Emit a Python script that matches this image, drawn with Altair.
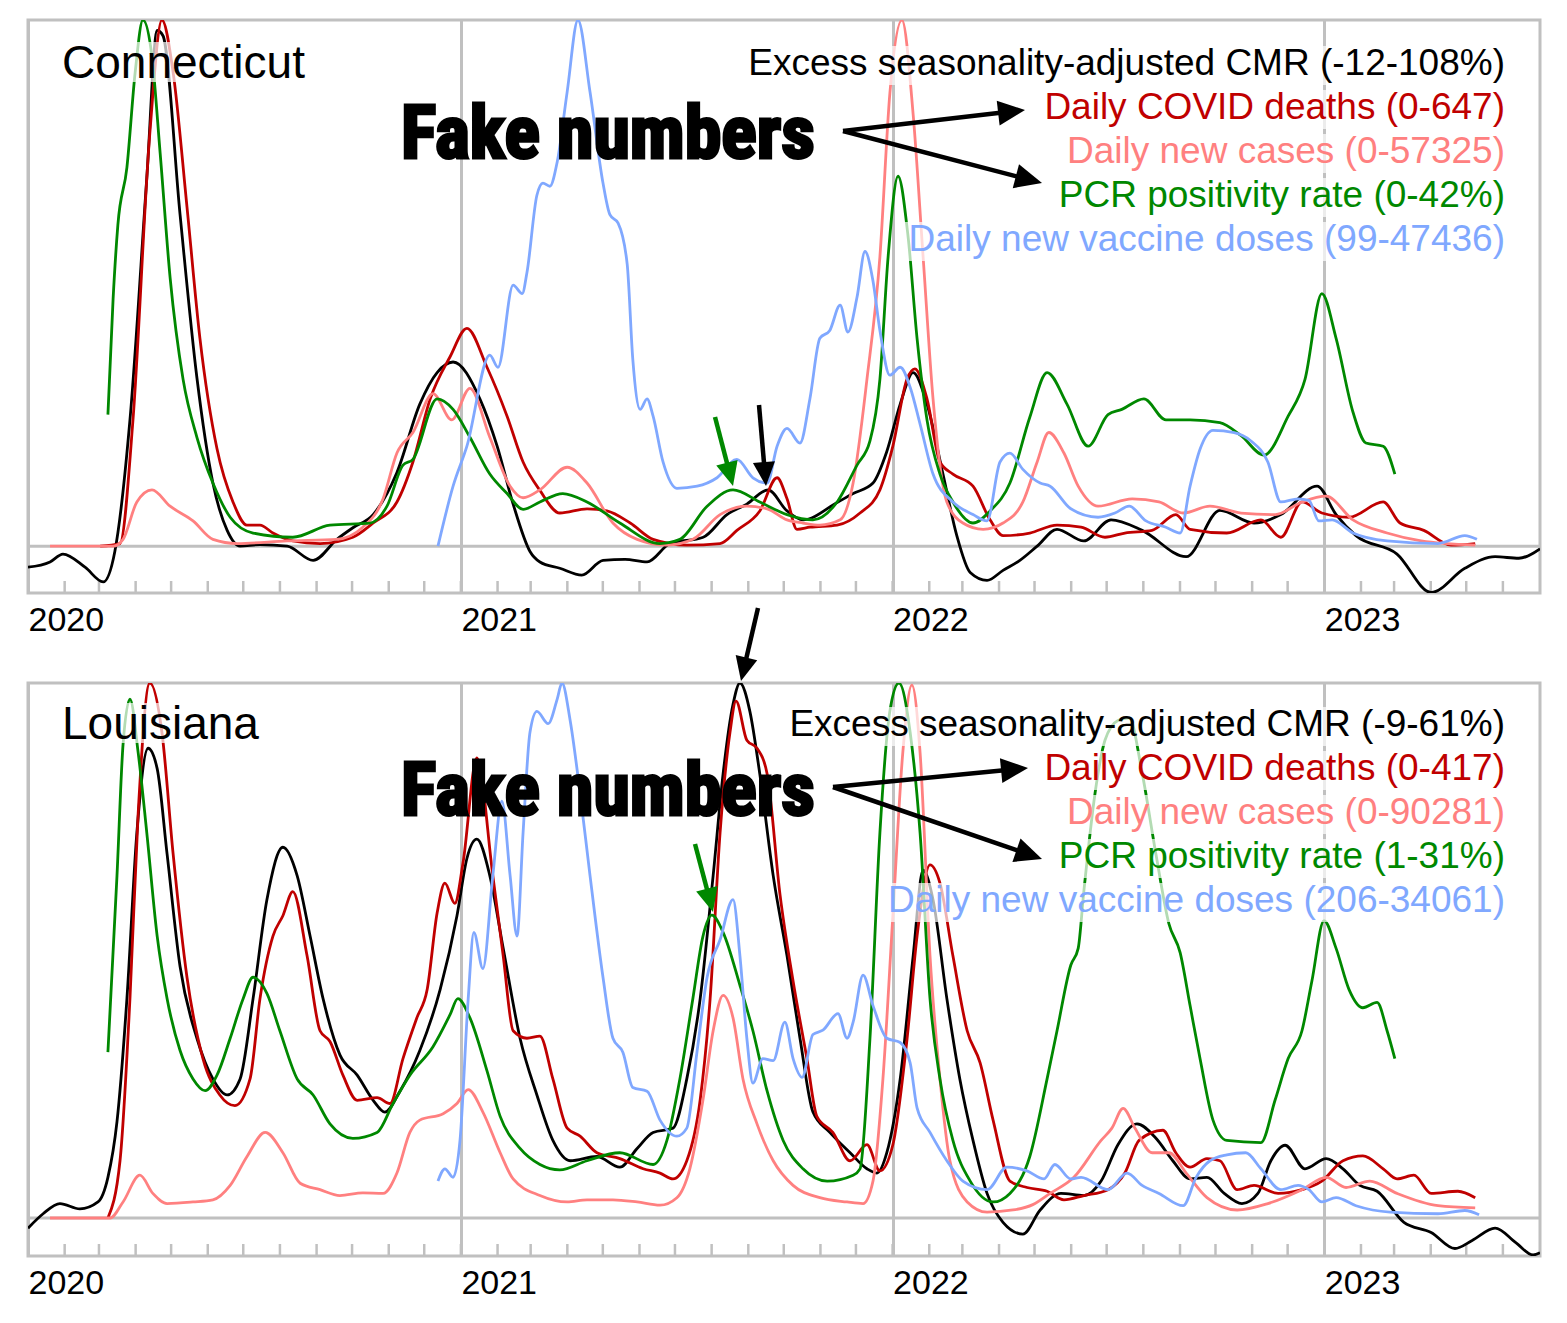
import math
import altair as alt
import pandas as pd

# ---------------- data: time in years since 1 Jan 2020, values scaled 0..1 per series ----------------
CT_CMR_T = [0.000,0.051,0.081,0.132,0.174,0.201,0.236,0.275,0.299,0.3125,0.352,0.391,0.428,0.461,0.491,0.537,0.600,0.660,0.715,0.752,0.799,0.854,0.907,0.947,0.984,1.046,1.086,1.123,1.162,1.185,1.231,1.282,1.331,1.382,1.433,1.486,1.563,1.618,1.664,1.713,1.757,1.794,1.873,1.910,1.956,1.988,2.019,2.049,2.081,2.118,2.150,2.181,2.220,2.257,2.296,2.336,2.382,2.444,2.507,2.579,2.681,2.759,2.838,2.900,2.984,3.028,3.074,3.169,3.248,3.326,3.396,3.451,3.500]
CT_CMR_V = [-0.04,-0.03,-0.015,-0.04,-0.068,-0.01,0.24,0.70,0.98,0.97,0.63,0.32,0.12,0.03,0.0,0.003,0.0,-0.027,0.013,0.035,0.06,0.14,0.27,0.33,0.35,0.28,0.19,0.08,-0.01,-0.03,-0.042,-0.055,-0.027,-0.025,-0.03,0.005,0.017,0.06,0.08,0.107,0.067,0.05,0.083,0.10,0.12,0.18,0.27,0.33,0.27,0.137,0.02,-0.05,-0.065,-0.046,-0.027,0.0,0.032,0.01,0.05,0.03,-0.02,0.068,0.044,0.06,0.114,0.06,0.02,-0.015,-0.088,-0.042,-0.02,-0.023,-0.005]

CT_DEATHS_T = [0.167,0.213,0.243,0.282,0.310,0.336,0.368,0.398,0.4375,0.4745,0.507,0.537,0.567,0.613,0.676,0.752,0.799,0.854,0.891,0.931,0.977,1.016,1.0625,1.109,1.146,1.185,1.231,1.294,1.340,1.394,1.447,1.525,1.602,1.641,1.694,1.734,1.757,1.780,1.810,1.873,1.926,1.972,2.002,2.035,2.053,2.081,2.111,2.141,2.1875,2.227,2.257,2.319,2.382,2.4375,2.493,2.539,2.602,2.657,2.690,2.775,2.854,2.900,2.949,2.995,3.058,3.137,3.176,3.231,3.294,3.350]
CT_DEATHS_V = [0,0.005,0.24,0.785,1.0,0.9,0.645,0.395,0.185,0.084,0.04,0.04,0.025,0.01,0.005,0.017,0.044,0.084,0.16,0.28,0.36,0.414,0.34,0.247,0.16,0.106,0.063,0.071,0.067,0.044,0.013,0.002,0.005,0.03,0.067,0.13,0.09,0.032,0.036,0.04,0.063,0.107,0.19,0.318,0.337,0.28,0.16,0.137,0.114,0.05,0.02,0.025,0.04,0.036,0.017,0.025,0.03,0.06,0.032,0.025,0.05,0.017,0.084,0.063,0.055,0.084,0.044,0.03,0.002,0.005]

CT_CASES_T = [0.051,0.197,0.220,0.252,0.287,0.329,0.382,0.428,0.484,0.600,0.715,0.775,0.822,0.854,0.891,0.9375,0.981,1.023,1.069,1.116,1.146,1.185,1.248,1.294,1.354,1.410,1.479,1.539,1.602,1.664,1.711,1.757,1.794,1.833,1.880,1.910,1.942,1.972,1.995,2.023,2.049,2.072,2.095,2.127,2.164,2.211,2.257,2.303,2.336,2.363,2.398,2.431,2.477,2.556,2.618,2.674,2.736,2.808,2.887,2.949,3.005,3.067,3.146,3.225,3.350]
CT_CASES_V = [0,0,0.013,0.084,0.107,0.076,0.048,0.013,0.005,0.01,0.013,0.036,0.09,0.177,0.216,0.29,0.24,0.30,0.207,0.114,0.092,0.107,0.15,0.12,0.044,0.013,0.002,0.013,0.06,0.076,0.071,0.05,0.044,0.04,0.05,0.12,0.317,0.55,0.86,1.0,0.82,0.55,0.28,0.084,0.044,0.032,0.044,0.084,0.16,0.216,0.177,0.114,0.076,0.09,0.084,0.063,0.076,0.063,0.06,0.084,0.095,0.05,0.025,0.01,0.002]

CT_PCR_T = [0.185,0.197,0.208,0.229,0.248,0.266,0.287,0.306,0.329,0.359,0.391,0.428,0.468,0.521,0.613,0.699,0.792,0.831,0.868,0.891,0.947,0.984,1.023,1.069,1.109,1.146,1.185,1.238,1.294,1.370,1.463,1.509,1.572,1.632,1.694,1.757,1.817,1.873,1.919,1.949,1.972,1.991,2.014,2.037,2.058,2.081,2.111,2.141,2.1875,2.227,2.273,2.319,2.359,2.405,2.454,2.500,2.532,2.583,2.634,2.690,2.759,2.808,2.861,2.917,2.956,2.995,3.028,3.067,3.097,3.137,3.164]
CT_PCR_V = [0.25,0.47,0.61,0.72,0.90,1.0,0.93,0.746,0.51,0.317,0.207,0.12,0.055,0.025,0.017,0.04,0.044,0.076,0.154,0.165,0.28,0.26,0.207,0.137,0.1,0.07,0.084,0.1,0.084,0.044,0.005,0.013,0.076,0.107,0.084,0.06,0.05,0.084,0.154,0.2,0.317,0.55,0.703,0.59,0.395,0.24,0.137,0.084,0.044,0.067,0.12,0.245,0.33,0.27,0.19,0.25,0.26,0.28,0.24,0.24,0.235,0.21,0.173,0.247,0.317,0.48,0.395,0.255,0.196,0.19,0.137]

CT_VAX_T = [0.949,0.984,1.016,1.069,1.088,1.123,1.144,1.155,1.178,1.192,1.208,1.225,1.248,1.273,1.301,1.331,1.347,1.366,1.387,1.400,1.417,1.433,1.447,1.470,1.502,1.549,1.595,1.641,1.678,1.711,1.734,1.757,1.787,1.810,1.833,1.856,1.880,1.898,1.919,1.9375,1.956,1.972,1.995,2.019,2.042,2.065,2.095,2.141,2.1875,2.220,2.250,2.273,2.303,2.343,2.366,2.414,2.477,2.516,2.549,2.588,2.634,2.667,2.690,2.713,2.743,2.792,2.831,2.870,2.900,2.940,2.965,2.988,3.019,3.067,3.146,3.264,3.326,3.354]
CT_VAX_V = [0,0.114,0.19,0.363,0.34,0.496,0.48,0.52,0.667,0.69,0.684,0.73,0.863,1.0,0.863,0.69,0.63,0.614,0.536,0.355,0.26,0.28,0.247,0.16,0.11,0.114,0.13,0.165,0.13,0.12,0.19,0.224,0.196,0.28,0.395,0.41,0.458,0.407,0.473,0.56,0.504,0.41,0.325,0.34,0.302,0.232,0.137,0.084,0.06,0.048,0.16,0.177,0.146,0.12,0.114,0.071,0.055,0.063,0.076,0.048,0.036,0.025,0.114,0.184,0.22,0.216,0.2,0.16,0.084,0.09,0.087,0.048,0.05,0.025,0.01,0.005,0.02,0.013]

LA_CMR_T = [0.000,0.035,0.074,0.120,0.162,0.185,0.206,0.229,0.252,0.278,0.299,0.322,0.352,0.391,0.428,0.461,0.491,0.521,0.553,0.590,0.623,0.653,0.683,0.722,0.762,0.799,0.826,0.861,0.907,0.954,0.993,1.016,1.039,1.069,1.100,1.139,1.178,1.215,1.255,1.317,1.370,1.410,1.447,1.493,1.525,1.556,1.586,1.609,1.632,1.648,1.671,1.694,1.725,1.757,1.787,1.817,1.856,1.903,1.942,1.965,1.988,2.019,2.049,2.072,2.095,2.127,2.157,2.1875,2.220,2.257,2.303,2.343,2.391,2.444,2.484,2.523,2.567,2.611,2.650,2.690,2.729,2.769,2.810,2.847,2.877,2.910,2.956,3.005,3.044,3.083,3.123,3.185,3.248,3.303,3.343,3.396,3.444,3.484,3.500]
LA_CMR_V = [-0.019,0.008,0.027,0.017,0.03,0.076,0.18,0.41,0.72,0.878,0.84,0.68,0.47,0.336,0.26,0.23,0.26,0.41,0.595,0.693,0.64,0.527,0.41,0.305,0.267,0.22,0.198,0.237,0.313,0.427,0.565,0.672,0.708,0.64,0.504,0.336,0.23,0.145,0.107,0.115,0.095,0.13,0.16,0.168,0.26,0.41,0.64,0.83,0.96,1.0,0.947,0.83,0.64,0.49,0.336,0.198,0.16,0.122,0.092,0.084,0.122,0.26,0.49,0.65,0.595,0.41,0.26,0.145,0.046,-0.008,-0.03,0.015,0.046,0.042,0.069,0.137,0.176,0.149,0.107,0.073,0.076,0.046,0.027,0.046,0.107,0.136,0.092,0.111,0.092,0.061,0.05,-0.008,-0.027,-0.057,-0.042,-0.019,-0.046,-0.069,-0.065]

LA_DEATHS_T = [0.185,0.213,0.236,0.255,0.282,0.310,0.336,0.368,0.405,0.444,0.479,0.514,0.537,0.567,0.590,0.613,0.646,0.676,0.699,0.729,0.762,0.808,0.838,0.868,0.900,0.924,0.947,0.965,0.988,1.007,1.039,1.076,1.100,1.123,1.155,1.185,1.215,1.248,1.278,1.317,1.370,1.424,1.463,1.493,1.525,1.556,1.579,1.602,1.625,1.639,1.664,1.6875,1.711,1.741,1.771,1.803,1.826,1.863,1.903,1.942,1.972,2.002,2.035,2.058,2.088,2.111,2.141,2.174,2.204,2.234,2.273,2.3125,2.359,2.398,2.444,2.500,2.539,2.572,2.627,2.657,2.690,2.729,2.759,2.799,2.838,2.894,2.949,2.995,3.044,3.090,3.137,3.169,3.208,3.248,3.310,3.350]
LA_DEATHS_V = [0,0.107,0.41,0.756,1.0,0.908,0.68,0.45,0.298,0.23,0.21,0.26,0.41,0.527,0.565,0.61,0.49,0.35,0.33,0.267,0.22,0.225,0.214,0.298,0.374,0.427,0.57,0.626,0.588,0.664,0.86,0.64,0.49,0.35,0.336,0.34,0.26,0.168,0.153,0.122,0.111,0.092,0.084,0.073,0.107,0.221,0.41,0.72,0.908,0.966,0.893,0.878,0.83,0.603,0.443,0.298,0.19,0.16,0.107,0.137,0.088,0.137,0.336,0.527,0.66,0.626,0.49,0.35,0.29,0.183,0.069,0.057,0.05,0.034,0.042,0.053,0.084,0.145,0.164,0.122,0.095,0.111,0.107,0.053,0.061,0.046,0.053,0.069,0.107,0.116,0.092,0.073,0.08,0.046,0.05,0.038]

LA_CASES_T = [0.051,0.190,0.220,0.259,0.289,0.322,0.382,0.428,0.468,0.507,0.549,0.590,0.630,0.676,0.722,0.775,0.822,0.854,0.884,0.907,0.961,0.993,1.019,1.053,1.093,1.123,1.185,1.248,1.294,1.354,1.410,1.463,1.502,1.532,1.5625,1.586,1.609,1.632,1.655,1.6875,1.725,1.771,1.833,1.896,1.933,1.956,1.979,2.002,2.025,2.046,2.065,2.088,2.111,2.134,2.174,2.220,2.280,2.326,2.366,2.421,2.484,2.509,2.535,2.5625,2.602,2.641,2.681,2.729,2.799,2.870,2.949,3.005,3.051,3.106,3.169,3.264,3.350]
LA_CASES_V = [0,0,0.03,0.08,0.046,0.027,0.03,0.034,0.061,0.115,0.16,0.122,0.065,0.053,0.042,0.047,0.046,0.084,0.16,0.183,0.195,0.214,0.24,0.198,0.122,0.073,0.042,0.03,0.034,0.034,0.03,0.024,0.038,0.092,0.221,0.35,0.416,0.374,0.26,0.176,0.107,0.061,0.038,0.03,0.027,0.069,0.26,0.565,0.87,0.996,0.87,0.49,0.26,0.107,0.03,0.011,0.015,0.025,0.046,0.076,0.145,0.168,0.205,0.168,0.122,0.122,0.084,0.038,0.015,0.027,0.053,0.076,0.057,0.069,0.046,0.023,0.019]

LA_PCR_T = [0.185,0.206,0.220,0.236,0.255,0.275,0.299,0.322,0.352,0.382,0.410,0.4375,0.468,0.498,0.521,0.553,0.583,0.623,0.660,0.699,0.752,0.808,0.845,0.884,0.9375,0.977,0.995,1.023,1.0625,1.093,1.139,1.185,1.231,1.294,1.370,1.447,1.479,1.509,1.539,1.5625,1.583,1.609,1.648,1.678,1.711,1.748,1.794,1.850,1.910,1.926,1.949,1.972,1.995,2.016,2.042,2.065,2.088,2.111,2.141,2.181,2.234,2.273,2.319,2.359,2.382,2.414,2.431,2.444,2.470,2.493,2.523,2.549,2.579,2.611,2.641,2.667,2.690,2.713,2.743,2.775,2.854,2.887,2.917,2.949,2.972,3.000,3.028,3.058,3.090,3.123,3.146,3.164]
LA_PCR_V = [0.31,0.64,0.885,0.97,0.87,0.72,0.527,0.41,0.313,0.26,0.238,0.267,0.336,0.41,0.45,0.42,0.35,0.26,0.23,0.176,0.149,0.16,0.214,0.267,0.32,0.38,0.41,0.374,0.275,0.19,0.13,0.1,0.09,0.107,0.122,0.1,0.145,0.26,0.41,0.527,0.566,0.534,0.435,0.35,0.237,0.145,0.092,0.069,0.08,0.092,0.336,0.72,0.947,1.0,0.908,0.72,0.41,0.26,0.145,0.069,0.03,0.046,0.115,0.26,0.35,0.473,0.504,0.61,0.794,0.893,0.93,0.935,0.832,0.68,0.55,0.496,0.397,0.298,0.183,0.145,0.141,0.221,0.298,0.35,0.443,0.556,0.504,0.427,0.393,0.403,0.35,0.298]

LA_VAX_T = [0.949,0.965,0.984,1.000,1.019,1.032,1.053,1.076,1.097,1.116,1.132,1.146,1.162,1.178,1.204,1.225,1.236,1.255,1.278,1.301,1.331,1.354,1.377,1.400,1.433,1.463,1.502,1.525,1.549,1.572,1.602,1.632,1.648,1.664,1.678,1.701,1.725,1.752,1.771,1.792,1.817,1.840,1.875,1.896,1.910,1.933,1.956,1.988,2.019,2.042,2.058,2.088,2.127,2.164,2.220,2.266,2.3125,2.352,2.377,2.414,2.4375,2.500,2.544,2.579,2.618,2.674,2.704,2.736,2.775,2.819,2.854,2.900,2.940,2.965,2.995,3.028,3.074,3.153,3.264,3.326,3.359]
LA_VAX_V = [0.069,0.092,0.076,0.145,0.41,0.534,0.466,0.64,0.779,0.64,0.527,0.72,0.908,0.947,0.924,0.97,1.0,0.93,0.794,0.64,0.45,0.336,0.31,0.244,0.237,0.183,0.153,0.168,0.313,0.45,0.52,0.595,0.49,0.336,0.252,0.298,0.294,0.366,0.298,0.263,0.343,0.351,0.382,0.336,0.366,0.454,0.397,0.336,0.328,0.29,0.206,0.16,0.107,0.069,0.053,0.095,0.088,0.073,0.1,0.073,0.076,0.053,0.084,0.061,0.046,0.023,0.076,0.107,0.118,0.122,0.092,0.053,0.061,0.053,0.03,0.038,0.023,0.011,0.008,0.014,0.006]

SERIES_KEYS = ["cmr", "deaths", "cases", "pcr", "vax"]
DRAW_ORDER = ["cmr", "deaths", "cases", "pcr", "vax"]

CT_LABELS = ["Excess seasonality-adjusted CMR (-12-108%)", "Daily COVID deaths (0-647)",
             "Daily new cases (0-57325)", "PCR positivity rate (0-42%)",
             "Daily new vaccine doses (99-47436)"]
LA_LABELS = ["Excess seasonality-adjusted CMR (-9-61%)", "Daily COVID deaths (0-417)",
             "Daily new cases (0-90281)", "PCR positivity rate (1-31%)",
             "Daily new vaccine doses (206-34061)"]
STATES = ["Connecticut", "Louisiana"]
YEARS = [2020, 2021, 2022, 2023]

# ---------------- styling / layout ----------------
FONT = "Liberation Sans, Arial, Helvetica, sans-serif"
FAKE_FONT = "Roboto Condensed, Liberation Sans Narrow, DejaVu Sans Condensed, sans-serif"
GRAY = "#c0c0c0"
COLORS = {"cmr": "#000000", "deaths": "#c00000", "cases": "#ff8080",
          "pcr": "#008800", "vax": "#80a8ff"}
W, H = 1512, 573
ARROW_PATH = "M0,0L-0.46,1L0.46,1Z"

BASE = pd.Timestamp("2020-01-01")


def to_iso(t):
    ts = BASE + pd.to_timedelta(t * 365.25, unit="D")
    return ts.strftime("%Y-%m-%dT%H:%M:%S")


x_scale = alt.Scale(domain=[alt.DateTime(year=2020, month=1, date=1),
                            alt.DateTime(year=2023, month=7, date=2, hours=9)])
x_axis = alt.Axis(values=[alt.DateTime(year=y, month=1, date=1) for y in YEARS],
                  format="%Y", title=None, grid=True, gridColor=GRAY, gridWidth=3,
                  ticks=False, domain=False, labelAlign="left", labelFontSize=34,
                  labelFont=FONT, labelColor="#000000", labelPadding=10,
                  labelFlush=False, labelOverlap=False, labelOffset=0)

dummy = pd.DataFrame({"a": [0]})


def arrow(x0, y0, tx, ty, color, length, width=4.5):
    dx, dy = tx - x0, ty - y0
    d = math.hypot(dx, dy)
    ux, uy = dx / d, dy / d
    ex, ey = tx - ux * length * 0.6, ty - uy * length * 0.6
    ang = math.degrees(math.atan2(dx, -dy)) % 360
    shaft = alt.Chart(dummy).mark_rule(color=color, strokeWidth=width, strokeCap="butt").encode(
        x=alt.value(x0), y=alt.value(y0), x2=alt.value(ex), y2=alt.value(ey))
    head = alt.Chart(dummy).mark_point(shape=ARROW_PATH, filled=True, color=color, opacity=1,
                                       strokeWidth=0, size=(2 * length) ** 2, angle=ang).encode(
        x=alt.value(tx), y=alt.value(ty))
    return [shaft, head]


def panel(series, labels, state, ymin, legend_base, legend_widths, state_base, state_width,
          fake_base, arrows):
    y_scale = alt.Scale(domain=[ymin, 1.0], nice=False, zero=False)
    layers = []
    # zero line
    layers.append(alt.Chart(pd.DataFrame({"v": [0.0]})).mark_rule(color=GRAY, strokeWidth=3).encode(
        y=alt.Y("v:Q", scale=y_scale, axis=None)))
    # monthly ticks
    months = pd.date_range("2020-02-01", "2023-06-01", freq="MS").strftime("%Y-%m-%dT00:00:00")
    layers.append(alt.Chart(pd.DataFrame({"date": list(months)})).mark_rule(
        color=GRAY, strokeWidth=2.5).encode(
        x=alt.X("date:T", scale=x_scale, axis=x_axis), y=alt.value(H), y2=alt.value(H - 12)))
    # curves
    for key in DRAW_ORDER:
        ts, vs = series[key]
        df = pd.DataFrame({"date": [to_iso(t) for t in ts], "v": vs})
        layers.append(alt.Chart(df).mark_line(color=COLORS[key], strokeWidth=2.8,
                                              interpolate="monotone", clip=True).encode(
            x=alt.X("date:T", scale=x_scale, axis=x_axis),
            y=alt.Y("v:Q", scale=y_scale, axis=None)))
    # state name
    layers.append(alt.Chart(dummy).mark_rect(color="white", opacity=0.7).encode(
        x=alt.value(32), x2=alt.value(34 + state_width + 2),
        y=alt.value(state_base - 36), y2=alt.value(state_base + 4)))
    layers.append(alt.Chart(dummy).mark_text(text=state, align="left", baseline="alphabetic",
                                             fontSize=46, font=FONT, color="#000000").encode(
        x=alt.value(34), y=alt.value(state_base)))
    # legend lines
    right = 1477
    for i, key in enumerate(SERIES_KEYS):
        yb = legend_base + 44 * i
        layers.append(alt.Chart(dummy).mark_rect(color="white", opacity=0.7).encode(
            x=alt.value(right - legend_widths[i] - 3), x2=alt.value(right + 3),
            y=alt.value(yb - 29), y2=alt.value(yb + 10)))
        layers.append(alt.Chart(dummy).mark_text(text=labels[i], align="right",
                                                 baseline="alphabetic", fontSize=37, font=FONT,
                                                 color=COLORS[key]).encode(
            x=alt.value(right), y=alt.value(yb)))
    # "Fake numbers"
    layers.append(alt.Chart(dummy).mark_text(text="Fake numbers", align="left",
                                             baseline="alphabetic", fontSize=74, font=FAKE_FONT,
                                             fontWeight="bold", color="#000000", stroke="#000000",
                                             strokeWidth=3).encode(
        x=alt.value(373), y=alt.value(fake_base)))
    for a in arrows:
        layers.extend(arrow(*a))
    return alt.layer(*layers).properties(width=W, height=H)


ct_series = {"cmr": (CT_CMR_T, CT_CMR_V), "deaths": (CT_DEATHS_T, CT_DEATHS_V),
             "cases": (CT_CASES_T, CT_CASES_V), "pcr": (CT_PCR_T, CT_PCR_V),
             "vax": (CT_VAX_T, CT_VAX_V)}
la_series = {"cmr": (LA_CMR_T, LA_CMR_V), "deaths": (LA_DEATHS_T, LA_DEATHS_V),
             "cases": (LA_CASES_T, LA_CASES_V), "pcr": (LA_PCR_T, LA_PCR_V),
             "vax": (LA_VAX_T, LA_VAX_V)}

ct_arrows = [(815, 111, 997, 90, "#000000", 27), (815, 111, 1014, 163, "#000000", 27),
             (687, 397, 705, 466, "#008800", 24), (731, 385, 738, 466, "#000000", 24)]
la_arrows = [(805, 104, 1000, 85, "#000000", 27), (805, 104, 1014, 176, "#000000", 27),
             (667, 161, 685, 229, "#008800", 24), (730, -75, 713, -2, "#000000", 24)]

top = panel(ct_series, CT_LABELS, STATES[0], -0.089, 55, [757, 460, 437, 445, 597], 58, 245, 138,
            ct_arrows)
bottom = panel(la_series, LA_LABELS, STATES[1], -0.071, 53, [715, 460, 437, 445, 617], 56, 198, 132,
               la_arrows)

chart = alt.vconcat(top, bottom, spacing=90, bounds="flush").properties(
    padding={"left": 17, "top": 10, "right": 5, "bottom": 5}
).configure_view(stroke=GRAY, strokeWidth=3)

chart.save("out.html", embed_options={"renderer": "svg", "actions": False})
